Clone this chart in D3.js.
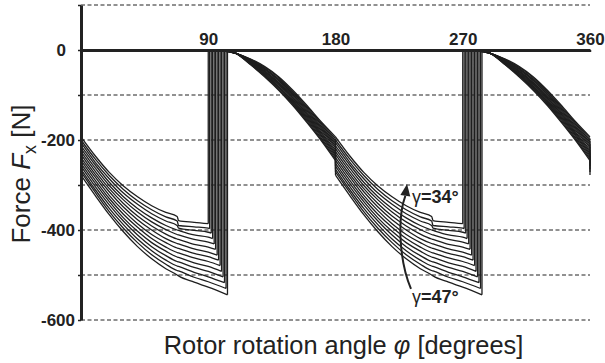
<!DOCTYPE html>
<meta charset="utf-8">
<style>
body { margin: 0; background: #fff; }
svg { display: block; font-family: "Liberation Sans", Arial, sans-serif; }
.grid line { stroke: #222; stroke-width: 1; stroke-dasharray: 4,2.5; }
.curves path { fill: none; stroke: #1e1e1e; stroke-width: 1.3; }
.axis path { stroke: #222; stroke-width: 3; }
.axis line { stroke: #222; stroke-width: 1.5; }
.axis text { font-size: 17px; font-weight: bold; fill: #222; font-family: "Liberation Sans", Arial, sans-serif; }
</style>
<svg width="605" height="363"></svg>
<script src="https://d3js.org/d3.v7.min.js"></script>
<script>

// one curve per gamma, the pattern repeats every 180 degrees
var gammas = [34, 35, 36, 37, 38, 39, 40, 41, 42, 43, 44, 45, 46, 47];
var periods = [0, 180];

// falling branch, angle -> force of each curve (gamma 34 ... 47)
var anglesA = [0, 10, 20, 30, 40, 50, 60, 68, 69, 80, 90];
var forceA = [
  [-193, -200, -206, -213, -219, -226, -232, -239, -245, -252, -258, -265, -271, -278],
  [-235, -242, -249, -255, -262, -269, -276, -282, -289, -296, -303, -310, -316, -323],
  [-272, -279, -286, -294, -301, -308, -315, -323, -330, -337, -344, -352, -359, -366],
  [-302, -310, -318, -326, -333, -341, -349, -357, -365, -373, -380, -388, -396, -404],
  [-326, -335, -343, -352, -360, -369, -377, -386, -394, -403, -411, -420, -428, -437],
  [-346, -355, -364, -373, -382, -391, -400, -410, -419, -428, -437, -446, -455, -464],
  [-361, -371, -380, -390, -399, -409, -419, -428, -438, -447, -457, -467, -476, -486],
  [-370, -380, -390, -400, -410, -420, -430, -440, -450, -460, -470, -480, -490, -500],
  [-379, -390, -396, -401, -411, -421, -431, -441, -451, -461, -471, -481, -491, -502],
  [-383, -393, -401, -411, -421, -432, -442, -452, -462, -473, -483, -494, -505, -516],
  [-386, -396, -405, -416, -427, -438, -449, -459, -470, -481, -492, -504, -515, -527]
];

// where each curve snaps back to zero
var jumpAngle = [90, 91, 92.1, 93.1, 94.2, 95.2, 96.3, 97.3, 98.4, 99.4, 100.5, 101.5, 102.6, 103.6];
var jumpForce = [-386, -397, -407, -419, -431, -443, -456, -467, -479, -492, -504, -517, -530, -544];

// second branch, from the jump down to the end of the half turn
var anglesB = [105, 110, 120, 130, 140, 150, 160, 170, 180];
var forceB = [
  [-4, -4, -4, -4, -3, -3, -3, -3, -2, -2, -2, -2, -1, -1],
  [-8, -8, -8, -8, -8, -8, -8, -8, -8, -8, -8, -8, -8, -8],
  [-20, -21, -22, -23, -24, -25, -26, -27, -28, -29, -30, -31, -32, -33],
  [-37, -39, -41, -42, -44, -46, -48, -49, -51, -53, -55, -56, -58, -60],
  [-60, -62, -65, -67, -69, -72, -74, -76, -78, -81, -83, -85, -88, -90],
  [-90, -93, -95, -98, -100, -103, -106, -108, -111, -114, -116, -119, -121, -124],
  [-124, -127, -130, -133, -136, -139, -142, -144, -147, -150, -153, -156, -159, -162],
  [-160, -163, -166, -170, -173, -176, -179, -183, -186, -189, -192, -196, -199, -202],
  [-193, -197, -201, -205, -209, -213, -217, -222, -226, -230, -234, -238, -242, -246]
];

var xTicks = [90, 180, 270, 360];
var yTicks = [100, 0, -100, -200, -300, -400, -500, -600];
var yLabelled = [0, -200, -400, -600];
var gridValues = [100, -100, -200, -300, -400, -500, -600];

// annotation arrow (angle, force)
var arrowCurve = [[233.4, -531], [224.2, -462], [224.2, -367], [229.4, -324]];
var arrowTip = [230.6, -298];
var labelTop = { text: "=34°", at: [234.1, -340] };
var labelBottom = { text: "=47°", at: [234.1, -562] };

var svg = d3.select("svg");

var x = d3.scaleLinear().domain([0, 360]).range([81, 590]);
var y = d3.scaleLinear().domain([-600, 100]).range([320, 5]);

var ink = "#222";

// dashed grid
svg.append("g").attr("class", "grid")
  .selectAll("line")
  .data(gridValues)
  .enter().append("line")
  .attr("x1", x(0)).attr("x2", x(360))
  .attr("y1", function(d) { return y(d); })
  .attr("y2", function(d) { return y(d); });

var smooth = d3.line()
  .x(function(d) { return x(d[0]); })
  .y(function(d) { return y(d[1]); })
  .curve(d3.curveMonotoneX);
var straight = d3.line()
  .x(function(d) { return x(d[0]); })
  .y(function(d) { return y(d[1]); });

function curvePath(i) {
  var s = "";
  periods.forEach(function(p) {
    var a = [];
    anglesA.forEach(function(ang, k) {
      if (ang < jumpAngle[i]) a.push([p + ang, forceA[k][i]]);
    });
    a.push([p + jumpAngle[i], jumpForce[i]]);
    s += smooth(a);
    s += straight([[p + jumpAngle[i], jumpForce[i]], [p + jumpAngle[i], 0]]);
    var b = [[p + jumpAngle[i], 0]];
    anglesB.forEach(function(ang, k) { b.push([p + ang, forceB[k][i]]); });
    s += smooth(b);
    var last = forceB[forceB.length - 1][i];
    s += straight([[p + 180, last], [p + 180, forceA[0][i]]]);
  });
  return s;
}

svg.append("g").attr("class", "curves")
  .selectAll("path")
  .data(gammas)
  .enter().append("path")
  .attr("d", function(d, i) { return curvePath(i); });

// axes
var yAxis = d3.axisLeft(y)
  .tickValues(yTicks)
  .tickSizeInner(3)
  .tickSizeOuter(0)
  .tickPadding(3)
  .tickFormat(function(d) { return yLabelled.indexOf(d) >= 0 ? d : ""; });

var gy = svg.append("g").attr("class", "axis")
  .attr("transform", "translate(" + x(0) + ",0)")
  .call(yAxis);
gy.selectAll(".tick text")
  .filter(function(d) { return d === 0; })
  .attr("x", -15);

var xAxis = d3.axisTop(x)
  .tickValues(xTicks)
  .tickSizeInner(-2)
  .tickSizeOuter(0)
  .tickPadding(5);

svg.append("g").attr("class", "axis")
  .attr("transform", "translate(0," + y(0) + ")")
  .call(xAxis);

svg.selectAll(".axis path").attr("stroke", ink);
svg.selectAll(".axis line").attr("stroke", ink);

// axis titles
var xt = svg.append("text")
  .attr("x", 343.5)
  .attr("y", 354)
  .attr("text-anchor", "middle")
  .attr("font-size", "25.4px")
  .attr("fill", ink);
xt.append("tspan").text("Rotor rotation angle ");
xt.append("tspan").attr("font-style", "italic").text("φ");
xt.append("tspan").text(" [degrees]");

var yt = svg.append("text")
  .attr("transform", "translate(30,174) rotate(-90)")
  .attr("text-anchor", "middle")
  .attr("font-size", "26px")
  .attr("fill", ink);
yt.append("tspan").text("Force ");
yt.append("tspan").attr("font-style", "italic").text("F");
yt.append("tspan").attr("font-size", "18px").attr("dy", 6).text("x");
yt.append("tspan").attr("dy", -6).text(" [N]");

// gamma arrow
var ann = svg.append("g");
var pts = arrowCurve.map(function(d) { return [x(d[0]), y(d[1])]; });
ann.append("path")
  .attr("d", "M" + pts[0] + "C" + pts[1] + " " + pts[2] + " " + pts[3])
  .attr("fill", "none")
  .attr("stroke", ink)
  .attr("stroke-width", 2);

var tip = [x(arrowTip[0]), y(arrowTip[1])];
var base = pts[3];
var dx = tip[0] - base[0], dy = tip[1] - base[1];
var len = Math.sqrt(dx * dx + dy * dy);
var nx = -dy / len * 5, ny = dx / len * 5;
ann.append("path")
  .attr("d", "M" + tip + "L" + [base[0] + nx, base[1] + ny] + "L" + [base[0] - nx, base[1] - ny] + "Z")
  .attr("fill", ink);

[labelTop, labelBottom].forEach(function(l) {
  var t = ann.append("text")
    .attr("x", x(l.at[0]))
    .attr("y", y(l.at[1]))
    .attr("font-size", "18px")
    .attr("fill", ink);
  t.append("tspan").text("γ");
  t.append("tspan").attr("font-weight", "bold").text(l.text);
});

</script>
